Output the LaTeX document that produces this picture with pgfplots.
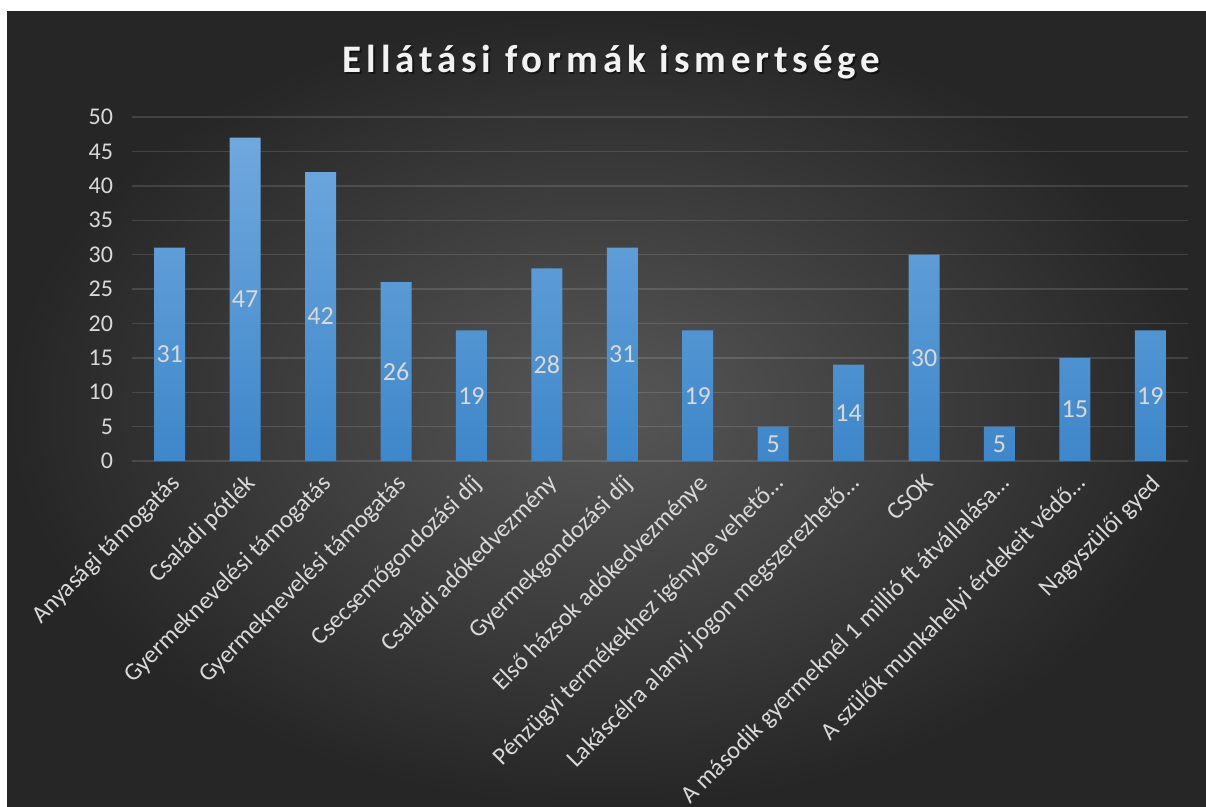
\documentclass[border=0pt]{standalone}
\usepackage{fontspec}
\setmainfont{Carlito}
\usepackage{pgfplots}
\pgfplotsset{compat=1.18}

\definecolor{bgin}{HTML}{575757}
\definecolor{bgout}{HTML}{262626}
\definecolor{bartop}{HTML}{70A8DE}
\definecolor{barbot}{HTML}{3E87CA}
\definecolor{txt}{HTML}{D9D9D9}

\begin{document}
\begin{tikzpicture}[x=0.5pt,y=-0.5pt]
% page in pixels of the reference: 1206 x 807
\useasboundingbox (0,0) rectangle (1206,807);
\fill[white] (0,0) rectangle (1206,807);
\shade[inner color=bgin, outer color=bgout] (7,12) rectangle (1206,807);

% title with a soft shadow
\node[anchor=base, text=black, opacity=0.5, font=\bfseries\fontsize{19.5}{22}\selectfont\addfontfeatures{LetterSpace=12.5}]
  at (613,74.5) {Ellátási formák ismertsége};
\node[anchor=base, text=white!95!black, font=\bfseries\fontsize{19.5}{22}\selectfont\addfontfeatures{LetterSpace=12.5}]
  at (611.5,72.7) {Ellátási formák ismertsége};

\begin{axis}[
    at={(66pt,-230.5pt)}, anchor=south west,
    scale only axis, width=528pt, height=172pt,
    xmin=-0.5, xmax=13.5, ymin=0, ymax=50,
    ytick={0,5,...,50},
    xtick={0,...,13},
    xticklabels={Anyasági támogatás, Családi pótlék, Gyermeknevelési támogatás,
      Gyermeknevelési támogatás, Csecsemőgondozási díj, Családi adókedvezmény,
      Gyermekgondozási díj, Első házsok adókedvezménye,
      Pénzügyi termékekhez igénybe vehető…, Lakáscélra alanyi jogon megszerezhető…,
      CSOK, A második gyermeknél 1 millió ft átvállalása…,
      A szülők munkahelyi érdekeit védő…, Nagyszülői gyed},
    axis line style={draw=none},
    major tick length=0pt,
    tick style={draw=none},
    ymajorgrids,
    grid style={white, opacity=0.13, line width=0.7pt},
    /pgf/number format/assume math mode=true,
    yticklabel style={text=txt, font=\fontsize{12}{14}\selectfont, xshift=-6pt},
    xticklabel style={text=txt, font=\fontsize{12.3}{14}\selectfont,
      rotate=45, anchor=north east, inner sep=1pt, yshift=-2.8pt, xshift=-3.2pt},
    visualization depends on={y \as \rawy},
    nodes near coords,
    nodes near coords style={text=txt, font=\fontsize{13}{15}\selectfont,
      anchor=center, shift={(axis direction cs:0,-\rawy/2)}},
  ]
  \addplot[ybar, bar width=15.5pt, draw=none, top color=bartop, bottom color=barbot]
    coordinates {
      (0,31) (1,47) (2,42) (3,26) (4,19) (5,28) (6,31)
      (7,19) (8,5) (9,14) (10,30) (11,5) (12,15) (13,19)
    };
\end{axis}
\end{tikzpicture}
\end{document}
